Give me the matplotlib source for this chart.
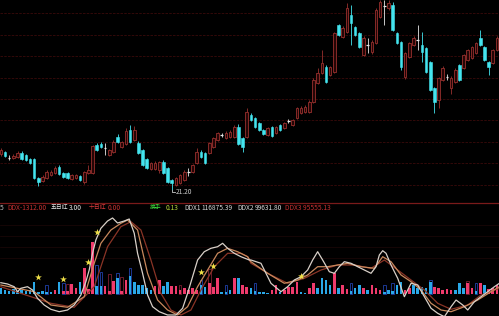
import matplotlib
matplotlib.use('Agg')
import matplotlib.pyplot as plt
import numpy as np

# candle data (price units)
opens = [
    23.0, 23.1, 22.85, 22.8, 22.85, 23.05, 22.95, 22.75, 22.75, 21.8,
    21.65, 21.8, 21.95, 22.05, 22.35, 22.05, 22.05, 21.75, 21.8, 21.9,
    21.6, 22.05, 22.05, 23.45, 23.5, 23.35, 22.95, 23.1, 23.85, 23.35,
    23.5, 24.2, 23.7, 23.55, 23.2, 22.75, 22.25, 22.25, 22.2, 22.6,
    22.3, 21.7, 21.45, 21.55, 21.7, 22.1, 22.1, 22.55, 23.1, 23.05,
    23.05, 23.35, 23.7, 23.95, 23.8, 23.85, 23.85, 24.35, 23.8, 23.85,
    24.95, 24.8, 24.55, 24.2, 23.95, 24.35, 24.05, 24.45, 24.3, 24.65,
    24.45, 24.8, 25.05, 25.1, 25.1, 25.6, 26.55, 27.05, 27.35, 26.95,
    27.1, 29.45, 28.85, 29.1, 29.95, 29.35, 29.05, 27.95, 28.45, 28.1,
    28.55, 29.85, 30.45, 30.3, 30.45, 29.05, 28.6, 26.85, 27.85, 28.45,
    28.7, 28.45, 28.3, 27.6, 26.3, 25.7, 26.7, 26.85, 26.3, 26.6,
    27.45, 27.3, 27.7, 27.8, 28.05, 28.8, 28.35, 27.6, 27.55, 28.2,
]
closes = [
    23.2, 22.9, 22.8, 22.9, 23.05, 22.75, 22.7, 22.55, 21.8, 21.6,
    21.85, 22.1, 22.1, 22.3, 22.0, 21.85, 21.8, 21.95, 21.95, 21.7,
    22.1, 22.2, 23.4, 23.2, 23.35, 23.3, 23.2, 23.6, 23.6, 23.6,
    24.15, 23.6, 24.2, 23.05, 22.45, 22.3, 22.55, 22.55, 22.6, 22.05,
    21.6, 21.55, 21.8, 21.95, 22.1, 22.1, 22.45, 23.1, 22.85, 22.55,
    23.55, 23.8, 24.05, 23.95, 24.05, 24.1, 24.35, 23.5, 23.35, 25.1,
    24.7, 24.35, 24.2, 24.0, 24.3, 23.9, 24.35, 24.2, 24.55, 24.65,
    24.7, 25.3, 25.3, 25.35, 25.6, 26.7, 27.05, 27.55, 26.6, 27.35,
    29.05, 28.95, 29.3, 30.3, 29.55, 28.95, 28.35, 28.8, 28.45, 28.6,
    30.2, 30.6, 30.4, 30.55, 29.2, 28.55, 27.35, 28.05, 28.55, 28.8,
    28.7, 28.1, 27.1, 26.2, 25.6, 26.8, 27.3, 26.85, 26.8, 27.2,
    26.7, 27.95, 28.2, 28.35, 28.55, 28.45, 27.7, 27.35, 28.2, 28.8,
]
highs = [
    23.3, 23.15, 22.95, 23.0, 23.15, 23.15, 23.0, 22.8, 22.8, 21.85,
    21.95, 22.2, 22.2, 22.4, 22.45, 22.1, 22.1, 22.0, 22.0, 21.95,
    22.15, 22.45, 23.45, 23.55, 23.6, 23.55, 23.25, 23.7, 24.0, 23.65,
    24.3, 24.45, 24.4, 23.65, 23.25, 22.8, 22.6, 22.65, 22.65, 22.7,
    22.35, 21.75, 21.85, 22.0, 22.2, 22.3, 22.5, 23.3, 23.2, 23.1,
    23.6, 23.85, 24.1, 24.05, 24.15, 24.2, 24.45, 24.5, 23.85, 25.3,
    25.05, 24.85, 24.6, 24.25, 24.35, 24.4, 24.4, 24.5, 24.6, 24.75,
    24.75, 25.35, 25.4, 25.45, 25.7, 26.8, 27.3, 28.2, 27.45, 27.4,
    29.1, 29.5, 29.4, 30.55, 30.45, 29.4, 29.1, 28.9, 28.8, 28.7,
    30.3, 30.7, 30.7, 30.7, 30.6, 29.1, 28.65, 28.1, 28.6, 28.9,
    29.45, 29.1, 28.35, 27.65, 26.35, 26.85, 27.4, 27.0, 26.9, 27.3,
    27.5, 28.0, 28.25, 28.4, 28.6, 29.2, 28.4, 27.65, 28.25, 28.9,
]
lows = [
    22.9, 22.85, 22.7, 22.75, 22.8, 22.7, 22.65, 22.5, 21.75, 21.4,
    21.6, 21.75, 21.9, 22.0, 21.95, 21.8, 21.75, 21.7, 21.75, 21.65,
    21.5, 22.0, 22.0, 23.15, 23.3, 22.95, 22.9, 23.05, 23.55, 23.3,
    23.45, 23.55, 23.65, 23.0, 22.4, 22.25, 22.2, 22.2, 22.05, 22.0,
    21.55, 21.2, 21.4, 21.5, 21.65, 21.9, 22.05, 22.5, 22.8, 22.5,
    23.0, 23.3, 23.65, 23.85, 23.75, 23.8, 23.8, 23.45, 23.1, 23.8,
    24.65, 24.3, 24.15, 23.95, 23.9, 23.85, 24.0, 24.15, 24.25, 24.55,
    24.4, 24.75, 25.0, 25.05, 25.05, 25.55, 26.5, 27.0, 26.55, 26.9,
    27.05, 28.9, 28.8, 29.05, 28.45, 28.9, 28.3, 27.9, 28.05, 28.0,
    28.5, 29.8, 29.45, 30.2, 29.15, 28.5, 27.2, 26.75, 27.8, 28.4,
    28.2, 27.6, 27.05, 26.15, 25.05, 25.3, 26.65, 26.7, 26.0, 26.55,
    26.65, 27.25, 27.65, 27.75, 28.0, 28.4, 27.65, 26.95, 27.5, 28.15,
]
price_grid = [21.45, 22.53, 23.6, 24.68, 25.75, 26.8, 27.88, 28.95, 30.03]
low_label = "21.20"

# lower panel: DDX bars
ddx_bar = [
    0.57, 0.4, 0.3, 0.5, 0.3, 0.4, 0.3, 0.4, 1.2, 0.2,
    0.3, 0.2, 0.2, 0.4, 1.2, 0.3, 0.3, 1.0, 0.6, 1.2,
    2.6, 0.5, 5.2, 0.8, 0.8, 0.8, 0.3, 1.3, 1.6, 0.3,
    1.4, 1.8, 1.2, 0.9, 0.9, 0.6, 0.4, 0.8, 1.4, 0.8,
    1.2, 0.8, 0.8, 0.4, 0.6, 0.4, 0.6, 0.4, 0.9, 0.7,
    1.1, 0.7, 1.6, 0.2, 0.2, 0.4, 1.6, 1.6, 0.9, 0.7,
    0.6, 0.3, 0.2, 0.2, 0.1, 0.4, 0.9, 0.2, 0.4, 0.7,
    0.7, 1.2, 0.2, 0.1, 0.6, 1.1, 0.6, 1.6, 1.4, 0.9,
    2.1, 0.6, 0.9, 0.5, 0.3, 0.6, 0.9, 0.6, 0.4, 0.9,
    0.6, 0.4, 0.2, 0.4, 0.3, 0.9, 1.2, 0.4, 0.6, 0.9,
    0.6, 0.7, 0.6, 1.2, 0.7, 0.6, 0.4, 0.5, 0.4, 0.4,
    1.1, 0.6, 1.1, 0.6, 0.3, 1.1, 0.9, 0.5, 0.6, 0.9,
]
bar_side = ("bbbbbbbbbb" "bbbrbrrrrb" "rrrbbrrrbr" "rbbbbbbrrb"
            "brrrrrrrbb" "rrrbbbrbrr" "bbbbbrrbrr" "rrbbrrbbbb"
            "rbrrbbbrbr" "rrbbbbbrrb" "bbbbrrrrrb" "bbrrbrbrrr")
hollow_idx = [11, 15, 16, 23, 24, 26, 28, 29, 31, 43, 48, 50, 54, 61, 84, 92, 94, 103, 112, 114]
hollow_val = [0.9, 1.1, 1.0, 2.9, 2.2, 2.0, 2.1, 1.7, 2.6, 0.9, 1.4, 2.5, 0.9, 1.1, 1.1, 0.9, 1.1, 1.4, 1.3, 1.1]
hollow_side = "bbrbbrbrbrbrbbbbbbrb"

star_idx = [9, 15, 21, 23, 48, 51, 72]
star_val = [1.7, 1.5, 3.2, 6.2, 2.2, 2.8, 1.8]

white_x = [0, 1.6, 3.2, 4, 4.8, 6.4, 7.6, 8.8, 10.4, 12, 14, 16, 17.6, 19.2, 20.4, 21.2, 22,
           22.8, 24, 25.6, 26.8, 28, 29.6, 30.8, 32, 32.8, 34, 35.2, 36.4, 38, 40, 42, 43.6,
           44.8, 46, 47.2, 48.8, 50.4, 52, 53.2, 54.4, 56, 57.6, 59.6,
           60, 62.4, 64.8, 67.2, 68.8, 70.4, 72, 73.6, 74.8, 76, 77.2, 78.8, 80, 81.2, 82.4,
           84, 85.6, 87.2, 88.8, 90, 90.8, 91.6, 92.4, 93.6, 95.2, 96.8, 98.4, 100, 101.6,
           103.2, 104.8, 106.4, 108, 109.2, 110.8, 112, 113.6, 115.2, 116.8, 118.4, 119.6]
white_v = [1.13, 1.0, 0.73, 0.23, 0.57, 0.73, 0.4, -0.43, -1.1, -1.53, -1.77, -1.6, -1.1, -0.1,
           1.23, 2.4, 4.07, 5.4, 6.57, 7.3, 7.6, 7.1, 7.3, 7.5, 6.07, 4.07, 2.07, -0.1, -1.27,
           -1.77, -2.1, -2.1, -1.43, 0.07, 1.73, 3.4, 4.23, 4.57, 4.73, 5.07, 4.57, 4.07, 3.73, 3.4,
           3.4, 3.07, 1.07, 0.23, 0.73, 1.4, 1.73, 2.4, 3.4, 4.23, 3.4, 2.23, 2.07, 2.73, 3.23,
           3.07, 2.73, 2.4, 2.07, 2.73, 3.9, 4.33, 4.07, 2.9, 1.57, -0.27, 1.07, 0.9, -0.27,
           -1.43, -1.93, -2.27, -1.27, -0.6, -1.1, -1.6, -0.77, -0.27, 0.23, 0.73, 1.07]
orange_x = [0, 8, 12, 16, 20, 22.4, 24, 26.4, 28.8, 30.4, 32.8, 35.2, 37.6, 40, 42.4, 44.8,
            47.2, 49.6, 52, 54.4, 56.8, 59.2, 60, 64, 68, 71.2, 73.6, 76, 78.4, 80.8, 83.2,
            86.4, 89.6, 91.6, 93.6, 96, 98.4, 100.8, 103.2, 105.6, 108, 111.2, 114.4, 117.6, 119.6]
orange_v = [0.9, 0.23, -1.1, -1.33, -0.27, 3.07, 5.07, 6.4, 7.07, 7.4, 6.4, 2.07, -0.6, -1.6,
            -2.1, -1.27, 0.73, 2.4, 4.07, 4.57, 4.23, 3.73, 3.23, 2.07, 1.07, 1.4, 1.9, 2.73,
            2.73, 2.9, 3.07, 2.73, 2.57, 3.73, 3.23, 1.9, 1.23, 0.4, -0.93, -1.6, -1.77, -1.27,
            -0.6, 0.23, 0.73]
dred_x = [0, 12, 17.6, 22.4, 25.6, 28.8, 31.2, 33.6, 36, 38.4, 40.8, 43.2, 45.6, 48, 51.2,
          54.4, 57.6, 59.2, 60, 64.8, 68.8, 72.8, 76.8, 80.8, 84.8, 88.8, 92, 95.2, 98.4,
          101.6, 104.8, 108, 112, 115.2, 119.6]
dred_v = [0.73, -0.93, -1.33, 0.73, 4.73, 6.73, 7.23, 6.4, 3.4, 0.07, -1.6, -2.1, -1.6, 0.4,
          2.73, 4.07, 4.07, 3.73, 3.07, 1.9, 1.07, 1.57, 2.4, 2.9, 2.9, 2.57, 3.4, 2.4, 1.4,
          0.4, -0.93, -1.53, -1.1, -0.1, 0.57]
ddx_grid = [3.6, 4.7, 5.8, 6.9]

# info row: (text, colour, x pixel, font size)
info = [("5", '#c0c0c0', 0, 4.8), ("DDX-1312.00", '#c83232', 7, 4.8),
        ("五日红", '#e8e8e8', 51, 4.2), ("3.00", '#e8e8e8', 69, 4.8),
        ("十日红", '#d83a3a', 89, 4.2), ("0.00", '#c83232', 108, 4.8),
        ("换手", '#3cdc3c', 150, 4.2), ("0.13", '#b8d83c', 166, 4.8),
        ("DDX1", '#d8d8d8', 184, 4.8), ("116875.39", '#d8d8d8', 201, 4.8),
        ("DDX2", '#d8d8d8', 237, 4.8), ("99631.80", '#d8d8d8', 255, 4.8),
        ("DDX3 95555.13", '#c83232', 285, 4.8)]

FONT = ['Noto Sans CJK SC', 'DejaVu Sans']
RED = '#98302e'
CYAN = '#44e4ee'
W, H = 499, 316

fig = plt.figure(figsize=(W / 100, H / 100), dpi=100, facecolor='black')
ax = fig.add_axes([0, 1 - 203 / H, 1, 203 / H], facecolor='black')
ax2 = fig.add_axes([0, 0, 1, 103 / H], facecolor='black')
for a in (ax, ax2):
    a.set_axis_off()
    a.set_xlim(-0.2, 119.5)

ax.set_ylim(20.55, 30.7)
for g in price_grid:
    ax.axhline(g, color='#3a0a0a', lw=0.6, ls=(0, (3, 1.5)), zorder=0)

idx = np.arange(len(opens))
bw = 0.62
for i, o, c, hi, lo in zip(idx, opens, closes, highs, lows):
    if abs(c - o) < 0.06:
        col = '#e8e8e8'
        ax.vlines(i, lo, hi, color=col, lw=0.6, zorder=2)
        ax.hlines((o + c) / 2, i - bw / 2, i + bw / 2, color=col, lw=0.9, zorder=3)
        continue
    top, bot = max(o, c), min(o, c)
    if c > o:
        ax.vlines(i, top, hi, color=RED, lw=0.6, zorder=2)
        ax.vlines(i, lo, bot, color=RED, lw=0.6, zorder=2)
        ax.add_patch(plt.Rectangle((i - bw / 2, bot), bw, top - bot, facecolor='#240606',
                                   edgecolor=RED, lw=0.6, zorder=3))
    else:
        ax.vlines(i, lo, hi, color=CYAN, lw=0.6, zorder=2)
        ax.add_patch(plt.Rectangle((i - bw / 2, bot), bw, top - bot, facecolor=CYAN,
                                   edgecolor=CYAN, lw=0.4, zorder=3))

# lowest point marker
imin = int(np.argmin(lows))
ax.plot([imin, imin, imin + 0.8], [lows[imin], lows[imin] - 0.12, lows[imin] - 0.12],
        color='#c8c8c8', lw=0.6)
ax.text(imin + 0.9, lows[imin] - 0.12, low_label, color='#c8c8c8', fontsize=4.8,
        va='center', ha='left', family=FONT)

# separator + info row
fig.add_artist(plt.Line2D([0, 1], [1 - 202.5 / H] * 2, color='#7a1a1a', lw=0.9))
for txt, col, xp, fs in info:
    fig.text(xp / W, 1 - 207.5 / H, txt, color=col, fontsize=fs, va='center', ha='left',
             family=FONT)

# lower panel
ax2.set_ylim(-2.2, 8.1)
for g in ddx_grid:
    ax2.axhline(g, color='#1e0808', lw=0.5, zorder=0)
for i, v, s in zip(hollow_idx, hollow_val, hollow_side):
    ax2.add_patch(plt.Rectangle((i - 0.32, 0), 0.64, v, facecolor='none',
                                edgecolor='#2040a8' if s == 'b' else '#7c1e30', lw=0.6, zorder=1))
bar_cols = ['#2aa8e8' if s == 'b' else '#f03a6c' for s in bar_side]
ax2.bar(idx, ddx_bar, width=0.62, color=bar_cols, zorder=2)
ax2.plot(dred_x, dred_v, color='#8a3426', lw=0.9, zorder=3)
ax2.plot(orange_x, orange_v, color='#c8885c', lw=0.9, zorder=4)
ax2.plot(white_x, white_v, color='#d8d0c8', lw=0.9, zorder=5)
ax2.scatter(star_idx, star_val, marker='*', s=26, color='#f0e048', zorder=6, linewidths=0)

fig.savefig('out.png', dpi=100, facecolor='black')
